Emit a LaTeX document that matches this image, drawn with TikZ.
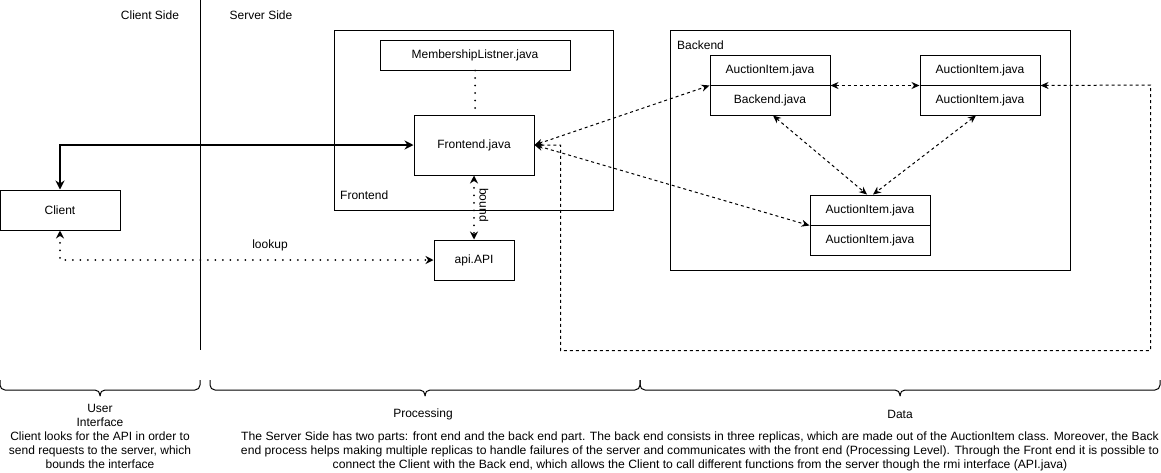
\documentclass[tikz,border=0pt]{standalone}
\usepackage{fontspec}
\setmainfont{Liberation Sans}
\usetikzlibrary{arrows.meta}
\begin{document}
\begin{tikzpicture}[x=1pt,y=-1pt,
  every node/.style={font=\fontsize{12}{14}\selectfont},
  box/.style={draw,line width=1pt,inner sep=0pt},
  cont/.style={draw,line width=1pt},
  lbl/.style={inner sep=0pt},
  dashconn/.style={line width=1pt,dash pattern=on 3pt off 3pt,{Stealth[length=8pt,width=7pt]}-{Stealth[length=8pt,width=7pt]}},
  dotconn/.style={line width=2pt,line cap=round,dash pattern=on 0pt off 7.5pt},
  dotarrow/.style={dotconn,{Stealth[length=8pt,width=8pt]}-{Stealth[length=8pt,width=8pt]}},
  thickconn/.style={line width=2pt,{Stealth[length=9pt,width=9pt]}-{Stealth[length=9pt,width=9pt]}},
  bracepath/.style={line width=1pt,rounded corners=5pt}
]
\useasboundingbox (0,0) rectangle (1161,472);

% divider and side labels
\draw[line width=1pt] (200,0) -- (200,350);
\node[lbl] (cs) at (150,15) {Client Side};
\node[lbl] (ss) at (261,15) {Server Side};

% containers
\draw[cont] (334,30) rectangle (613,210);
\node[lbl,anchor=west] (felbl) at (340,195) {Frontend};
\draw[cont] (670,30) rectangle (1070,270);
\node[lbl,anchor=west] (belbl) at (677,45) {Backend};

% nodes
\node[box,minimum width=120pt,minimum height=40pt] (client) at (60,210) {Client};
\node[box,minimum width=190pt,minimum height=30pt] (ml) at (475,55) {MembershipListner.java};
\node[box,minimum width=120pt,minimum height=60pt] (fe) at (474,145) {Frontend.java};
\node[box,minimum width=80pt,minimum height=40pt] (api) at (474,260) {api.API};

\node[box,minimum width=120pt,minimum height=30pt] (b1t) at (770,70) {AuctionItem.java};
\node[box,minimum width=120pt,minimum height=30pt] (b1b) at (770,100) {Backend.java};
\node[box,minimum width=120pt,minimum height=30pt] (b2t) at (980,70) {AuctionItem.java};
\node[box,minimum width=120pt,minimum height=30pt] (b2b) at (980,100) {AuctionItem.java};
\node[box,minimum width=120pt,minimum height=30pt] (b3t) at (870,210) {AuctionItem.java};
\node[box,minimum width=120pt,minimum height=30pt] (b3b) at (870,240) {AuctionItem.java};

% connectors
\draw[thickconn] (client.north) |- (fe.west);
\draw[dotarrow] (client.south) |- (api.west);
\node[lbl] (lk) at (270,245) {lookup};
\draw[dotconn] (ml.south) -- (fe.north -| ml.south);
\draw[dotarrow] (fe.south) -- (api.north);
\node[lbl,rotate=-90] (bdl) at (484,205) {bound};

\draw[dashconn] (fe.east) -- (b1t.south west);
\draw[dashconn] (fe.east) -- (b3t.south west);
\draw[dashconn] (b1t.south east) -- (b2t.south west);
\draw[dashconn] ([xshift=3pt]b1b.south) -- ([xshift=-3pt]b3t.north);
\draw[dashconn] ([xshift=-4pt]b2b.south) -- ([xshift=3pt]b3t.north);
\coordinate (r1) at (1150.5,85);
\coordinate (r2) at (1150.5,350.5);
\coordinate (r3) at (560.5,350.5);
\coordinate (r4) at (560.5,145);
\draw[dashconn] (b2t.south east) -- (r1) -- (r2) -- (r3) -- (r4) -- (fe.east);

% braces
\draw[bracepath] (0,380) -- (0,390) -- (100,390) -- (100,396);
\draw[bracepath] (100,396) -- (100,390) -- (200,390) -- (200,380);
\draw[bracepath] (210,380) -- (210,390) -- (425,390) -- (425,396);
\draw[bracepath] (425,396) -- (425,390) -- (640,390) -- (640,380);
\draw[bracepath] (640,380) -- (640,390) -- (900,390) -- (900,396);
\draw[bracepath] (900,396) -- (900,390) -- (1160,390) -- (1160,380);

% bottom texts
\node[lbl,align=center,anchor=north] (ui) at (100,404) {User\\Interface\\Client looks for the API in order to\\send requests to the server, which\\bounds the interface};
\node[lbl] (proc) at (423,414) {Processing};
\node[lbl] (data) at (900,414) {Data};
\node[lbl,anchor=north] (desc) at (700,430) {\resizebox{918pt}{\height}{\begin{tabular}{@{}c@{}}The Server Side has two parts: front end and the back end part. The back end consists in three replicas, which are made out of the AuctionItem class. Moreover, the Back\\end process helps making multiple replicas to handle failures of the server and communicates with the front end (Processing Level). Through the Front end it is possible to\\connect the Client with the Back end, which allows the Client to call different functions from the server though the rmi interface (API.java)\end{tabular}}};
\end{tikzpicture}
\end{document}
